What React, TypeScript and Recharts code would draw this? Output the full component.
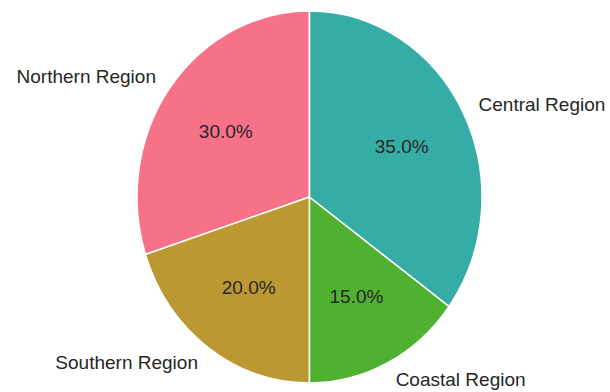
import React from 'react';
import { PieChart, Pie, Cell } from 'recharts';

const regions = ['Northern Region', 'Southern Region', 'Coastal Region', 'Central Region'];
const shares = [30, 20, 15, 35];
const colors = ['#f77189', '#bb9832', '#50b131', '#36ada4'];

const data = regions.map((name, i) => ({ name, value: shares[i] }));

// the reference pie is a little taller than it is wide
const STRETCH = 186 / 172.5;
const RAD = Math.PI / 180;

const EllipseSector = (props: any) => {
  const { cx, cy, outerRadius, startAngle, endAngle, fill } = props;
  const rx = outerRadius;
  const ry = outerRadius * STRETCH;
  const x1 = cx + rx * Math.cos(startAngle * RAD);
  const y1 = cy - ry * Math.sin(startAngle * RAD);
  const x2 = cx + rx * Math.cos(endAngle * RAD);
  const y2 = cy - ry * Math.sin(endAngle * RAD);
  const large = Math.abs(endAngle - startAngle) > 180 ? 1 : 0;
  const sweep = endAngle > startAngle ? 0 : 1;
  const d = `M${cx},${cy} L${x1},${y1} A${rx},${ry} 0 ${large} ${sweep} ${x2},${y2} Z`;
  return <path d={d} fill={fill} stroke="#fff" strokeWidth={1.5} strokeLinejoin="round" />;
};

const renderLabel = (props: any) => {
  const { cx, cy, midAngle, outerRadius, name, percent } = props;
  const c = Math.cos(midAngle * RAD);
  const s = Math.sin(midAngle * RAD);
  const lx = cx + 1.1 * outerRadius * c;
  const ly = cy - 1.1 * outerRadius * STRETCH * s;
  const px = cx + 0.6 * outerRadius * c;
  const py = cy - 0.6 * outerRadius * STRETCH * s;
  const style = { fontFamily: '"Liberation Sans", Arial, sans-serif', fontSize: 19 };
  return (
    <g>
      <text x={lx} y={ly} textAnchor={c >= 0 ? 'start' : 'end'} dominantBaseline="central" fill="#262626" style={style}>
        {name}
      </text>
      <text x={px} y={py} textAnchor="middle" dominantBaseline="central" fill="#262626" style={style}>
        {(percent * 100).toFixed(1)}%
      </text>
    </g>
  );
};

export default function App() {
  return (
    <div style={{ position: 'absolute', left: 0, top: 0, width: 610, height: 392, background: '#fff' }}>
      <PieChart width={610} height={392} margin={{ top: 0, right: 0, bottom: 0, left: 0 }}>
        <Pie
          data={data}
          dataKey="value"
          nameKey="name"
          cx={309.5}
          cy={197}
          outerRadius={172.5}
          startAngle={90}
          endAngle={450}
          label={renderLabel}
          labelLine={false}
          shape={EllipseSector}
          inactiveShape={EllipseSector}
          activeShape={EllipseSector}
          isAnimationActive={false}
        >
          {data.map((d, i) => (
            <Cell key={d.name} fill={colors[i]} />
          ))}
        </Pie>
      </PieChart>
    </div>
  );
}
